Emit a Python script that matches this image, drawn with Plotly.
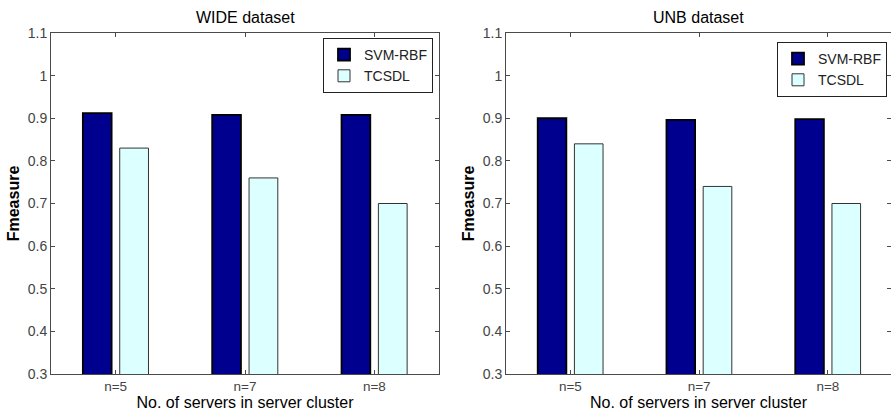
import plotly.graph_objects as go

categories = ["n=5", "n=7", "n=8"]
series_names = ["SVM-RBF", "TCSDL"]
wide_svm = [0.912, 0.908, 0.908]
wide_tcsdl = [0.830, 0.760, 0.700]
unb_svm = [0.900, 0.896, 0.898]
unb_tcsdl = [0.840, 0.740, 0.700]
panel_titles = ["WIDE dataset", "UNB dataset"]
x_title = "No. of servers in server cluster"
y_title = "Fmeasure"
y_ticks = [0.3, 0.4, 0.5, 0.6, 0.7, 0.8, 0.9, 1.0, 1.1]
y_ticklabels = ["0.3", "0.4", "0.5", "0.6", "0.7", "0.8", "0.9", "1", "1.1"]

FONT = "Arial, Liberation Sans, sans-serif"
NAVY = "#00008F"
CYAN = "#DCFFFF"
AX = "#4a4a4a"

fig = go.Figure()
panels = [(wide_svm, wide_tcsdl, "x", "y", "legend"),
          (unb_svm, unb_tcsdl, "x2", "y2", "legend2")]
for svm, tcs, xa, ya, lg in panels:
    fig.add_trace(go.Bar(x=categories, y=svm, name=series_names[0], xaxis=xa, yaxis=ya,
                         marker=dict(color=NAVY, line=dict(color="black", width=1.8)),
                         legend=lg, offsetgroup="a"))
    fig.add_trace(go.Bar(x=categories, y=tcs, name=series_names[1], xaxis=xa, yaxis=ya,
                         marker=dict(color=CYAN, line=dict(color="#333333", width=1)),
                         legend=lg, offsetgroup="b"))

L, R, T, B = 51, 0, 33, 43
W, H = 891, 417
pw = W - L - R
left_dom = [0, (439 - L) / pw]
right_dom = [(506 - L) / pw, 1]

xcommon = dict(showline=True, linecolor=AX, linewidth=1, mirror="ticks",
               ticks="inside", ticklen=4, tickcolor=AX,
               tickfont=dict(family=FONT, size=13.5, color="#444444"),
               title=dict(text=x_title, font=dict(family=FONT, size=16, color="black"), standoff=3),
               showgrid=False, zeroline=False, fixedrange=True)
ycommon = dict(showline=True, linecolor=AX, linewidth=1, mirror="ticks",
               ticks="inside", ticklen=4, tickcolor=AX, range=[0.3, 1.1],
               tickvals=y_ticks, ticktext=y_ticklabels,
               tickfont=dict(family=FONT, size=14, color="#444444"),
               title=dict(text="<b>" + y_title + "</b>", font=dict(family=FONT, size=16, color="black"), standoff=4),
               showgrid=False, zeroline=False, fixedrange=True)

fig.update_layout(
    width=W, height=H,
    margin=dict(l=L, r=R, t=T, b=B, autoexpand=False),
    paper_bgcolor="white", plot_bgcolor="white",
    barmode="group", bargap=0.43, bargroupgap=0.22,
    font=dict(family=FONT, size=13, color="black"),
    xaxis=dict(domain=left_dom, range=[-0.5, 2.5], anchor="y", **xcommon),
    yaxis=dict(domain=[0, 1], anchor="x", **ycommon),
    xaxis2=dict(domain=right_dom, range=[-0.5, 2.49], anchor="y2", **xcommon),
    yaxis2=dict(domain=[0, 1], anchor="x2", **ycommon),
    legend=dict(x=(323 - L) / pw, y=(374 - 38) / (H - T - B), xanchor="left", yanchor="top",
                bordercolor="#222222", borderwidth=1, bgcolor="white", itemwidth=30,
                font=dict(family=FONT, size=14, color="#222222"), tracegroupgap=0),
    legend2=dict(x=(777 - L) / pw, y=(374 - 42) / (H - T - B), xanchor="left", yanchor="top",
                 bordercolor="#222222", borderwidth=1, bgcolor="white", itemwidth=30,
                 font=dict(family=FONT, size=14, color="#222222"), tracegroupgap=0),
    annotations=[
        dict(text=panel_titles[0], xref="x domain", yref="y domain", x=0.5, y=1,
             xanchor="center", yanchor="bottom", yshift=5, showarrow=False,
             font=dict(family=FONT, size=16, color="black")),
        dict(text=panel_titles[1], xref="x2 domain", yref="y2 domain", x=0.5, y=1,
             xanchor="center", yanchor="bottom", yshift=5, showarrow=False,
             font=dict(family=FONT, size=16, color="black")),
    ],
)

fig.write_html("out.html", config={"displayModeBar": False})
